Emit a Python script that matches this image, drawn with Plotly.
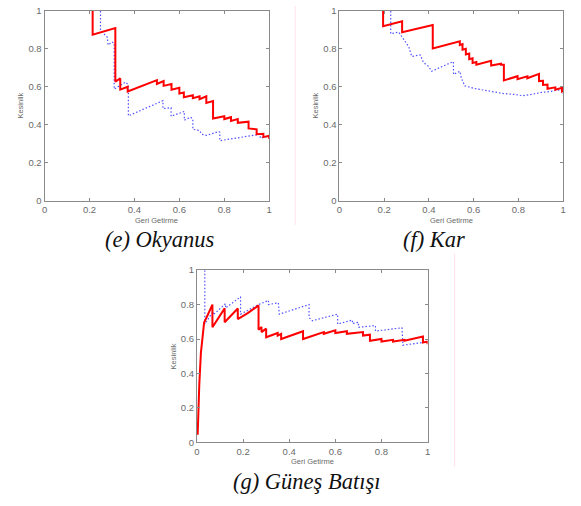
import plotly.graph_objects as go

W, H = 581, 506

# ---------------- data (recall, precision vertices) ----------------
e_red_x = [0.214, 0.214, 0.315, 0.315, 0.337, 0.337, 0.370, 0.370, 0.500, 0.500, 0.530, 0.530,
           0.565, 0.565, 0.600, 0.600, 0.620, 0.620, 0.660, 0.660, 0.690, 0.690, 0.720, 0.720,
           0.750, 0.750, 0.800, 0.800, 0.830, 0.830, 0.860, 0.860, 0.908, 0.908, 0.944, 0.944,
           0.974, 0.974, 1.000, 1.000]
e_red_y = [1.000, 0.875, 0.909, 0.627, 0.644, 0.585, 0.600, 0.575, 0.635, 0.615, 0.630, 0.605,
           0.615, 0.585, 0.595, 0.565, 0.570, 0.545, 0.555, 0.540, 0.550, 0.535, 0.550, 0.515,
           0.525, 0.433, 0.445, 0.430, 0.440, 0.420, 0.430, 0.410, 0.416, 0.381, 0.376, 0.350,
           0.352, 0.335, 0.342, 0.325]

e_blue_x = [0.249, 0.249, 0.279, 0.283, 0.300, 0.310, 0.310, 0.360, 0.373, 0.373, 0.527, 0.527,
            0.563, 0.563, 0.622, 0.622, 0.650, 0.660, 0.660, 0.690, 0.700, 0.720, 0.776, 0.780,
            0.780, 0.960, 0.960, 1.000]
e_blue_y = [1.000, 0.897, 0.862, 0.820, 0.836, 0.830, 0.588, 0.625, 0.610, 0.447, 0.527, 0.485,
            0.490, 0.445, 0.470, 0.424, 0.440, 0.430, 0.376, 0.370, 0.350, 0.344, 0.364, 0.360,
            0.316, 0.350, 0.330, 0.340]

f_red_x = [0.195, 0.195, 0.280, 0.280, 0.417, 0.417, 0.538, 0.538, 0.550, 0.550, 0.565, 0.565,
           0.580, 0.580, 0.595, 0.595, 0.612, 0.612, 0.678, 0.678, 0.722, 0.722, 0.735, 0.735,
           0.796, 0.796, 0.840, 0.840, 0.892, 0.892, 0.910, 0.910, 0.930, 0.930, 0.965, 0.965,
           0.995, 0.995, 1.000]
f_red_y = [1.000, 0.919, 0.945, 0.888, 0.926, 0.802, 0.840, 0.820, 0.825, 0.795, 0.800, 0.770,
           0.775, 0.745, 0.750, 0.725, 0.730, 0.716, 0.737, 0.712, 0.722, 0.716, 0.716, 0.634,
           0.656, 0.640, 0.655, 0.645, 0.668, 0.630, 0.632, 0.610, 0.612, 0.590, 0.597, 0.585,
           0.595, 0.575, 0.578]

f_blue_x = [0.229, 0.229, 0.265, 0.280, 0.295, 0.310, 0.323, 0.361, 0.376, 0.398, 0.412, 0.509,
            0.510, 0.538, 0.545, 0.560, 0.600, 0.620, 0.660, 0.700, 0.730, 0.780, 0.820, 0.860,
            0.900, 0.940, 0.970, 0.990, 1.000]
f_blue_y = [1.000, 0.880, 0.888, 0.860, 0.835, 0.810, 0.760, 0.768, 0.727, 0.708, 0.682, 0.733,
            0.665, 0.682, 0.645, 0.605, 0.592, 0.588, 0.580, 0.575, 0.565, 0.560, 0.553, 0.560,
            0.570, 0.575, 0.580, 0.585, 0.565]

g_red_x = [0.003, 0.006, 0.010, 0.017, 0.031, 0.045, 0.067, 0.067, 0.089, 0.120, 0.120, 0.150,
           0.177, 0.177, 0.220, 0.267, 0.267, 0.280, 0.280, 0.300, 0.300, 0.350, 0.350, 0.365,
           0.365, 0.460, 0.460, 0.550, 0.550, 0.600, 0.600, 0.650, 0.650, 0.720, 0.720, 0.750,
           0.750, 0.800, 0.800, 0.850, 0.850, 0.900, 0.900, 0.980, 0.980, 1.000, 1.000]
g_red_y = [0.044, 0.200, 0.335, 0.520, 0.695, 0.735, 0.800, 0.668, 0.716, 0.778, 0.697, 0.740,
           0.777, 0.716, 0.750, 0.795, 0.653, 0.670, 0.640, 0.660, 0.610, 0.635, 0.620, 0.630,
           0.600, 0.645, 0.600, 0.640, 0.630, 0.650, 0.635, 0.645, 0.630, 0.640, 0.620, 0.625,
           0.590, 0.600, 0.585, 0.595, 0.585, 0.595, 0.590, 0.615, 0.580, 0.585, 0.570]

g_blue_x = [0.034, 0.034, 0.070, 0.070, 0.124, 0.124, 0.189, 0.189, 0.267, 0.310, 0.310, 0.353,
            0.357, 0.486, 0.486, 0.500, 0.610, 0.610, 0.674, 0.674, 0.700, 0.700, 0.774, 0.774,
            0.889, 0.893, 0.996, 1.000]
g_blue_y = [1.000, 0.687, 0.760, 0.740, 0.805, 0.780, 0.845, 0.744, 0.800, 0.824, 0.800, 0.810,
            0.744, 0.800, 0.725, 0.706, 0.744, 0.687, 0.710, 0.690, 0.697, 0.668, 0.678, 0.646,
            0.665, 0.564, 0.583, 0.585]

tick_vals = [0, 0.2, 0.4, 0.6, 0.8, 1]
tick_text = ["0", "0.2", "0.4", "0.6", "0.8", "1"]
captions = ["(e) Okyanus", "(f) Kar", "(g) Güneş Batışı"]
x_title = "Geri Getirme"
y_title = "Kesinlik"

# ---------------- layout geometry (pixels) ----------------
def px(x):
    return x / W

def py(y):
    return 1 - y / H

panels = [  # left, right, top, bottom in pixels
    (42, 269, 5, 199),
    (340, 566, 5, 199),
    (196, 429, 270, 446),
]
series = [
    (e_red_x, e_red_y, e_blue_x, e_blue_y),
    (f_red_x, f_red_y, f_blue_x, f_blue_y),
    (g_red_x, g_red_y, g_blue_x, g_blue_y),
]
caption_y = [239, 239, 486]
caption_x = [158.7, 435, 307]

fig = go.Figure()
annotations = []
for i, ((l, r, t, b), (rx, ry, bx, by)) in enumerate(zip(panels, series)):
    sfx = "" if i == 0 else str(i + 1)
    xa, ya = "x" + sfx, "y" + sfx
    fig.add_trace(go.Scatter(x=bx, y=by, mode="lines", xaxis=xa, yaxis=ya,
                             line=dict(color="rgb(80,80,255)", width=1.2, dash="1.5px,2px"),
                             showlegend=False, hoverinfo="skip"))
    fig.add_trace(go.Scatter(x=rx, y=ry, mode="lines", xaxis=xa, yaxis=ya,
                             line=dict(color="#ff0000", width=2),
                             showlegend=False, hoverinfo="skip"))
    common = dict(range=[0, 1], showline=True, linecolor="#8a8a8a", linewidth=1,
                  mirror="ticks", ticks="inside", ticklen=3, tickcolor="#8a8a8a",
                  tickvals=tick_vals, ticktext=tick_text, showgrid=False, zeroline=False,
                  tickfont=dict(family="Liberation Sans", size=9.5, color="#6a6a6a"),
                  fixedrange=True)
    fig.layout["xaxis" + sfx] = dict(domain=[px(l), px(r)], anchor=ya, **common)
    fig.layout["yaxis" + sfx] = dict(domain=[py(b), py(t)], anchor=xa, **common)
    # axis titles
    annotations.append(dict(text=x_title, x=px((l + r) / 2), y=py(b + 20), xref="paper", yref="paper",
                            showarrow=False, xanchor="center", yanchor="middle",
                            font=dict(family="Liberation Sans", size=7.5, color="#6a6a6a")))
    annotations.append(dict(text=y_title, x=px(l - 24), y=py((t + b) / 2), xref="paper", yref="paper",
                            showarrow=False, xanchor="center", yanchor="middle", textangle=-90,
                            font=dict(family="Liberation Sans", size=7.5, color="#6a6a6a")))
    annotations.append(dict(text=captions[i], x=px(caption_x[i]), y=py(caption_y[i]),
                            xref="paper", yref="paper", showarrow=False, xanchor="center", yanchor="middle",
                            font=dict(family="Liberation Serif", size=22.5, color="#111111",
                                      style="italic")))

shapes = [
    dict(type="line", xref="paper", yref="paper", x0=px(295.3), x1=px(295.3), y0=py(0), y1=py(224),
         line=dict(color="#ffe4ea", width=1)),
    dict(type="line", xref="paper", yref="paper", x0=px(456.3), x1=px(456.3), y0=py(253), y1=py(471),
         line=dict(color="#ffe4ea", width=1.2)),
]

fig.update_layout(width=W, height=H, margin=dict(l=0, r=0, t=0, b=0),
                  paper_bgcolor="white", plot_bgcolor="white",
                  annotations=annotations, shapes=shapes, showlegend=False)
fig.write_html("out.html", config={"displayModeBar": False, "staticPlot": True},
               post_script="document.body.style.margin='0';document.body.style.overflow='hidden';")
